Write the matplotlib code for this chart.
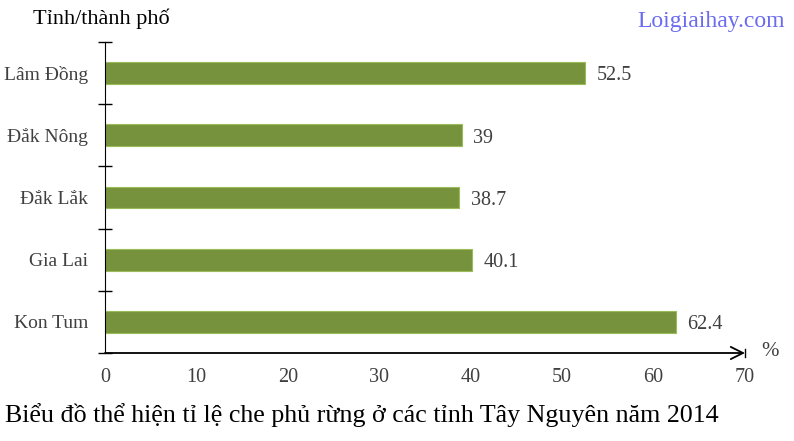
import matplotlib
matplotlib.use("Agg")
import matplotlib.pyplot as plt

categories = ["Kon Tum", "Gia Lai", "Đắk Lắk", "Đắk Nông", "Lâm Đồng"]
values = [62.4, 40.1, 38.7, 39, 52.5]
value_labels = ["62.4", "40.1", "38.7", "39", "52.5"]
xticks = [0, 10, 20, 30, 40, 50, 60, 70]

plt.rcParams['font.family'] = ['Liberation Serif', 'DejaVu Serif']

fig = plt.figure(figsize=(7.94, 4.41), dpi=100)
ax = fig.add_axes([105/794, 1-353/441, 640/794, (353-42)/441])

ypos = list(range(len(categories)))
ax.barh(ypos, values, height=0.35, color="#76923C", edgecolor="#9BBB59", linewidth=0.8, zorder=2)
for y, v, lab in zip(ypos, values, value_labels):
    ax.annotate(lab, (v, y), xytext=(8.5, -2), textcoords="offset points",
                va="center", ha="left", fontsize=14.5, color="#404040")

ax.set_xlim(0, 70)
ax.set_ylim(-0.5, 4.5)
ax.set_xticks(xticks)
ax.set_xticklabels([str(t) for t in xticks], fontsize=14.5, color="#404040")
ax.set_yticks(ypos)
ax.set_yticklabels(categories, fontsize=14, color="#404040")
ax.tick_params(axis='y', length=0, pad=12)
ax.tick_params(axis='x', length=0, pad=11)
ax.set_yticks([-0.5, 0.5, 1.5, 2.5, 3.5, 4.5], minor=True)
ax.tick_params(axis='y', which='minor', direction='inout', length=10, width=1, color='black')
ax.set_xticks(xticks[1:-1], minor=True)
ax.tick_params(axis='x', which='minor', direction='inout', length=10, width=1, color='black')

for s in ['top', 'right']:
    ax.spines[s].set_visible(False)
ax.spines['left'].set_color('black')
ax.spines['bottom'].set_visible(False)
ax.annotate("", xy=(70, -0.5), xytext=(0, -0.5),
            arrowprops=dict(arrowstyle="->", color="black", lw=1.3, mutation_scale=22,
                            shrinkA=0, shrinkB=0), annotation_clip=False)
ax.plot([70, 70], [-0.56, -0.44], color='black', lw=1, clip_on=False)

fig.text(33/794, 1-19/441, "Tỉnh/thành phố", fontsize=16, color="black", va="center", ha="left")
fig.text(770/794, 1-352/441, "%", fontsize=15, color="#404040", va="center", ha="center")
fig.text(785/794, 1-21/441, "Loigiaihay.com", fontsize=17, color="#6B6BEF", va="center", ha="right")
fig.text(5/794, 1-415/441, "Biểu đồ thể hiện tỉ lệ che phủ rừng ở các tỉnh Tây Nguyên năm 2014",
         fontsize=18.7, color="black", va="center", ha="left")

fig.savefig("out.png", dpi=100, facecolor="white")
